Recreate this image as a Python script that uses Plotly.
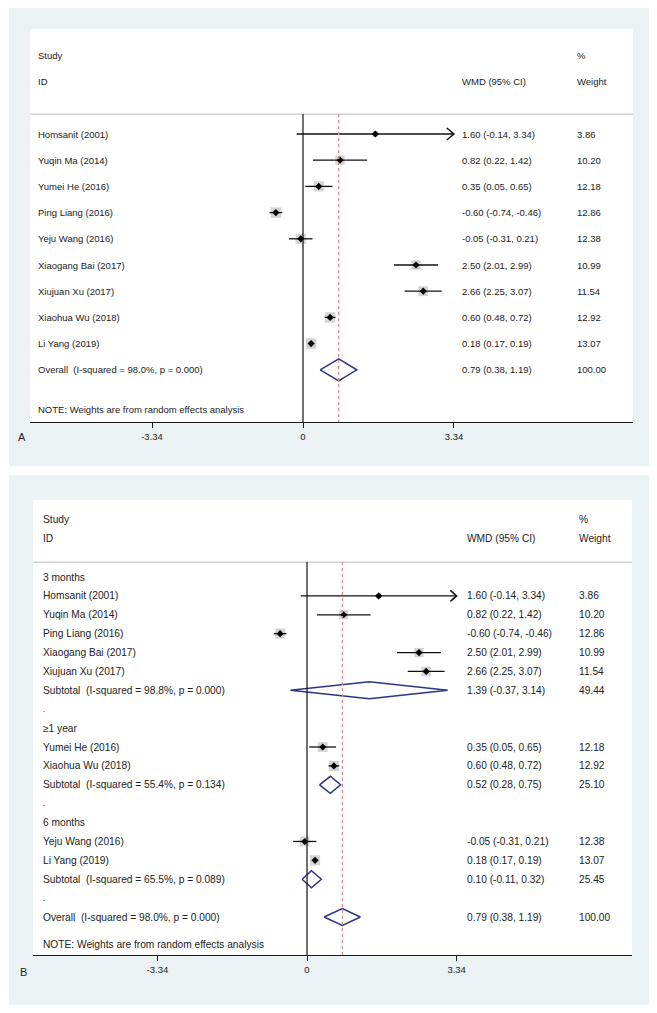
import plotly.graph_objects as go

# ---------------- data ----------------
studies_a = ["Homsanit (2001)", "Yuqin Ma (2014)", "Yumei He (2016)", "Ping Liang (2016)",
             "Yeju Wang (2016)", "Xiaogang Bai (2017)", "Xiujuan Xu (2017)",
             "Xiaohua Wu (2018)", "Li Yang (2019)"]
est_a = [1.60, 0.82, 0.35, -0.60, -0.05, 2.50, 2.66, 0.60, 0.18]
lo_a = [-0.14, 0.22, 0.05, -0.74, -0.31, 2.01, 2.25, 0.48, 0.17]
hi_a = [3.34, 1.42, 0.65, -0.46, 0.21, 2.99, 3.07, 0.72, 0.19]
w_a = [3.86, 10.20, 12.18, 12.86, 12.38, 10.99, 11.54, 12.92, 13.07]
overall = dict(label="Overall  (I-squared = 98.0%, p = 0.000)", est=0.79, lo=0.38, hi=1.19, w=100.00)

groups_b = ["3 months", "≥1 year", "6 months"]
group_members = [
    ["Homsanit (2001)", "Yuqin Ma (2014)", "Ping Liang (2016)", "Xiaogang Bai (2017)", "Xiujuan Xu (2017)"],
    ["Yumei He (2016)", "Xiaohua Wu (2018)"],
    ["Yeju Wang (2016)", "Li Yang (2019)"],
]
subtotal_labels = ["Subtotal  (I-squared = 98.8%, p = 0.000)",
                   "Subtotal  (I-squared = 55.4%, p = 0.134)",
                   "Subtotal  (I-squared = 65.5%, p = 0.089)"]
subtotal_est = [1.39, 0.52, 0.10]
subtotal_lo = [-0.37, 0.28, -0.11]
subtotal_hi = [3.14, 0.75, 0.32]
subtotal_w = [49.44, 25.10, 25.45]

tick_vals = [-3.34, 0, 3.34]
tick_text = ["-3.34", "0", "3.34"]
note = "NOTE: Weights are from random effects analysis"

# ---------------- styling ----------------
OFF = 8                      # default page body margin
W, H = 641, 997              # figure size (page minus body margins)
BG = "#eaf2f3"
FONT = "Liberation Sans, Arial, sans-serif"
TXT = "#222222"
DIA = "#2b3585"
REF = "#dc8e8a"
XMAX_CLIP = tick_vals[-1]


def fmt_ci(e, l, h):
    return f"{e:.2f} ({l:.2f}, {h:.2f})"


def px(p):
    return min(max((p - OFF) / W, 0), 1)


def py(p):
    return min(max(1 - (p - OFF) / H, 0), 1)


fig = go.Figure()

# outer panel backgrounds
for (t, b) in [(5, 466), (475, 1005)]:
    fig.add_shape(type="rect", xref="paper", yref="paper", x0=px(9), x1=px(650),
                  y0=py(b), y1=py(t), fillcolor=BG, line_width=0, layer="below")

panels = [
    # A
    dict(xa="x", ya="y", xaxis="xaxis", yaxis="yaxis",
         dom_x=(30, 633), dom_y=(29, 422), x0px=303, ppu=45.2,
         row0=134, rowh=26.2, fs=9.5, label_x=-5.91, wmd_x=3.47, wt_x=6.02,
         sep=-0.76, hdr=(-3.0, -2.0), panel="A", panel_px=(22, 437),
         sq=2.9, dia_h=0.42, arr_h=0.23, arr_w=0.16, note_y=10.5),
    # B
    dict(xa="x2", ya="y2", xaxis="xaxis2", yaxis="yaxis2",
         dom_x=(33, 632), dom_y=(500, 955), x0px=307, ppu=44.8,
         row0=577, rowh=18.89, fs=10.2, label_x=-5.94, wmd_x=3.53, wt_x=6.03,
         sep=-0.79, hdr=(-3.07, -2.06), panel="B", panel_px=(23, 972),
         sq=2.8, dia_h=0.45, arr_h=0.29, arr_w=0.14, note_y=19.48),
]

lookup = {s: (e, l, h, w) for s, e, l, h, w in zip(studies_a, est_a, lo_a, hi_a, w_a)}

# build row lists
rows_a = [("study", s) for s in studies_a] + [("overall", None)]
rows_b = []
for gi, g in enumerate(groups_b):
    rows_b.append(("group", g))
    rows_b += [("study", s) for s in group_members[gi]]
    rows_b.append(("subtotal", gi))
    rows_b.append(("dot", "."))
rows_b.append(("overall", None))

layout_axes = {}
for P, rows in zip(panels, [rows_a, rows_b]):
    xa, ya = P["xa"], P["ya"]
    fs = P["fs"]
    left = (P["dom_x"][0] - P["x0px"]) / P["ppu"]
    right = (P["dom_x"][1] - P["x0px"]) / P["ppu"]
    top = (P["dom_y"][0] - P["row0"]) / P["rowh"]
    bot = (P["dom_y"][1] - P["row0"]) / P["rowh"]

    layout_axes[P["xaxis"]] = dict(
        domain=[px(P["dom_x"][0]), px(P["dom_x"][1])], range=[left, right],
        showgrid=False, zeroline=False, showline=True, linecolor="#1a1a1a", linewidth=1.2,
        ticks="outside", ticklen=5, tickwidth=1.2, tickcolor="#1a1a1a",
        tickvals=tick_vals, ticktext=tick_text,
        tickfont=dict(family=FONT, size=9.5, color=TXT), anchor=ya, fixedrange=True)
    layout_axes[P["yaxis"]] = dict(
        domain=[py(P["dom_y"][1]), py(P["dom_y"][0])], range=[bot, top],
        visible=False, anchor=xa, fixedrange=True)

    # white plot region + header area
    fig.add_shape(type="rect", xref="paper", yref="paper",
                  x0=px(P["dom_x"][0]), x1=px(P["dom_x"][1]),
                  y0=py(P["dom_y"][1]), y1=py(P["dom_y"][0]),
                  fillcolor="white", line_width=0, layer="below")

    # header separator
    fig.add_shape(type="line", xref=f"{xa} domain", yref=ya, x0=0, x1=1,
                  y0=P["sep"], y1=P["sep"], line=dict(color="#c9c9c9", width=1.2))
    # null line
    fig.add_shape(type="line", xref=xa, yref=ya, x0=0, x1=0, y0=P["sep"], y1=bot,
                  line=dict(color="#111111", width=1.2))
    # overall effect line
    fig.add_shape(type="line", xref=xa, yref=ya, x0=overall["est"], x1=overall["est"],
                  y0=P["sep"], y1=bot, line=dict(color=REF, width=1.3, dash="dot"))

    def ann(x, y, text, size=fs, anchor="left"):
        fig.add_annotation(x=x, y=y, xref=xa, yref=ya, text=text, showarrow=False,
                           xanchor=anchor, yanchor="middle",
                           font=dict(family=FONT, size=size, color=TXT))

    # headers
    h1, h2 = P["hdr"]
    ann(P["label_x"], h1, "Study")
    ann(P["label_x"], h2, "ID")
    ann(P["wmd_x"], h2, "WMD (95% CI)")
    ann(P["wt_x"], h1, "%")
    ann(P["wt_x"], h2, "Weight")
    ann(P["label_x"], P["note_y"], note)

    ci_x, ci_y = [], []
    sq_x, sq_y, sq_s = [], [], []
    dia_x, dia_y = [], []
    arr_x, arr_y = [], []
    for i, (kind, val) in enumerate(rows):
        if kind == "group":
            ann(P["label_x"], i, val)
        elif kind == "dot":
            ann(P["label_x"], i, val, size=fs - 2)
        elif kind == "study":
            e, l, h, w = lookup[val]
            ann(P["label_x"], i, val)
            ann(P["wmd_x"], i, fmt_ci(e, l, h))
            ann(P["wt_x"], i, f"{w:.2f}")
            hc = min(h, XMAX_CLIP)
            ci_x += [l, hc, None]
            ci_y += [i, i, None]
            sq_x.append(e)
            sq_y.append(i)
            sq_s.append(P["sq"] * w ** 0.5)
            if h >= XMAX_CLIP:
                arr_x += [hc - P["arr_w"], hc, hc - P["arr_w"], None]
                arr_y += [i - P["arr_h"], i, i + P["arr_h"], None]
        else:
            if kind == "subtotal":
                lab, e, l, h, w = (subtotal_labels[val], subtotal_est[val], subtotal_lo[val],
                                   subtotal_hi[val], subtotal_w[val])
            else:
                lab, e, l, h, w = (overall["label"], overall["est"], overall["lo"],
                                   overall["hi"], overall["w"])
            ann(P["label_x"], i, lab)
            ann(P["wmd_x"], i, fmt_ci(e, l, h))
            ann(P["wt_x"], i, f"{w:.2f}")
            dh = P["dia_h"]
            dia_x += [l, e, h, e, l, None]
            dia_y += [i, i - dh, i, i + dh, i, None]

    fig.add_trace(go.Scatter(x=sq_x, y=sq_y, mode="markers", xaxis=xa, yaxis=ya,
                             marker=dict(symbol="square", size=sq_s, color="#c2c2c2", line_width=0),
                             hoverinfo="skip", showlegend=False))
    fig.add_trace(go.Scatter(x=ci_x, y=ci_y, mode="lines", xaxis=xa, yaxis=ya,
                             line=dict(color="#111111", width=1.3), hoverinfo="skip", showlegend=False))
    fig.add_trace(go.Scatter(x=arr_x, y=arr_y, mode="lines", xaxis=xa, yaxis=ya,
                             line=dict(color="#111111", width=1.5), hoverinfo="skip", showlegend=False))
    fig.add_trace(go.Scatter(x=sq_x, y=sq_y, mode="markers", xaxis=xa, yaxis=ya,
                             marker=dict(symbol="diamond", size=5.5, color="#000000", line_width=0),
                             hoverinfo="skip", showlegend=False))
    fig.add_trace(go.Scatter(x=dia_x, y=dia_y, mode="lines", xaxis=xa, yaxis=ya,
                             line=dict(color=DIA, width=1.5), hoverinfo="skip", showlegend=False))

    # panel letter
    fig.add_annotation(x=px(P["panel_px"][0]), y=py(P["panel_px"][1]), xref="paper", yref="paper",
                       text=P["panel"], showarrow=False, xanchor="center", yanchor="middle",
                       font=dict(family=FONT, size=11, color=TXT))

fig.update_layout(width=W, height=H, margin=dict(l=0, r=0, t=0, b=0),
                  paper_bgcolor="white", plot_bgcolor="rgba(0,0,0,0)", showlegend=False,
                  **layout_axes)

fig.write_html("out.html")
